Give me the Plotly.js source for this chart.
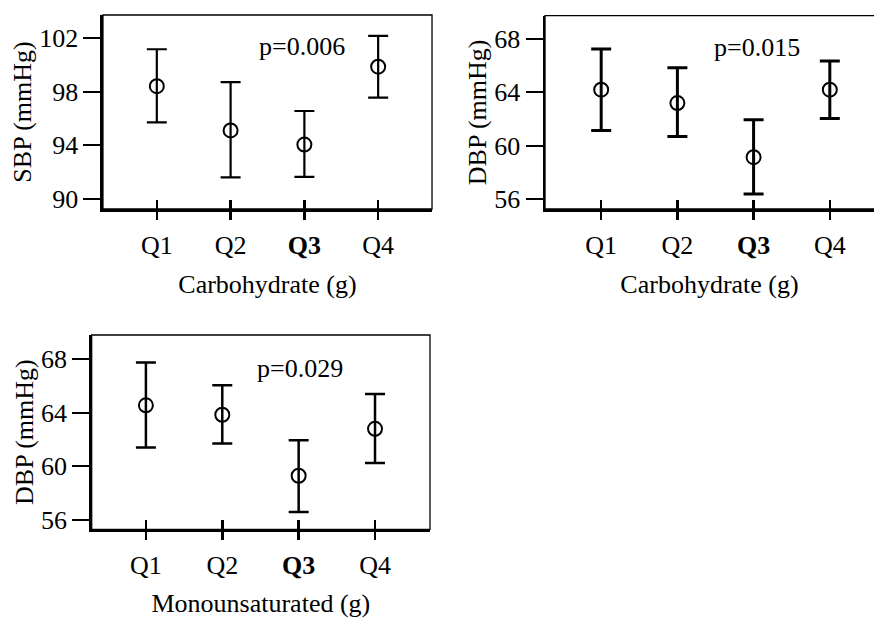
<!DOCTYPE html>
<html>
<head>
<meta charset="utf-8">
<script src="https://cdn.plot.ly/plotly-3.0.1.min.js"></script>
<style>html,body{margin:0;padding:0;background:#fff;}#chart{width:874px;height:618px;}</style>
</head>
<body>
<div id="chart"></div>
<script>
// Categories and tick labels
const quartiles = ['Q1', 'Q2', 'Q3', 'Q4'];
const quartileLabels = ['Q1', 'Q2', '<b>Q3</b>', 'Q4'];

// Panel 1: SBP by carbohydrate quartile
const sbpCarbMean  = [98.4, 95.1, 94.05, 99.85];
const sbpCarbUpper = [101.15, 98.7, 96.55, 102.15];
const sbpCarbLower = [95.7, 91.6, 91.65, 97.55];

// Panel 2: DBP by carbohydrate quartile
const dbpCarbMean  = [64.2, 63.2, 59.15, 64.2];
const dbpCarbUpper = [67.25, 65.85, 61.95, 66.35];
const dbpCarbLower = [61.15, 60.7, 56.4, 62.05];

// Panel 3: DBP by monounsaturated fat quartile
const dbpMufaMean  = [64.55, 63.85, 59.3, 62.8];
const dbpMufaUpper = [67.75, 66.05, 61.95, 65.4];
const dbpMufaLower = [61.4, 61.7, 56.6, 60.25];

const pValues = ['p=0.006', 'p=0.015', 'p=0.029'];
const yTitles = ['SBP (mmHg)', 'DBP (mmHg)', 'DBP (mmHg)'];
const xTitles = ['Carbohydrate (g)', 'Carbohydrate (g)', 'Monounsaturated (g)'];
const sbpTicks = [90, 94, 98, 102];
const dbpTicks = [56, 60, 64, 68];

const FONT = '"Liberation Serif", "Times New Roman", Times, serif';
const idx = quartiles.map((q, i) => i);

function trace(mean, upper, lower, xa, ya, lw) {
  return {
    type: 'scatter', mode: 'markers',
    x: idx, y: mean, xaxis: xa, yaxis: ya,
    text: quartiles, hoverinfo: 'text+y',
    marker: {symbol: 'circle-open', size: 14, color: '#000', line: {width: 2, color: '#000'}},
    error_y: {
      type: 'data', symmetric: false,
      array: upper.map((u, i) => u - mean[i]),
      arrayminus: lower.map((l, i) => mean[i] - l),
      color: '#000', thickness: lw, width: 10
    },
    showlegend: false
  };
}

const data = [
  trace(sbpCarbMean, sbpCarbUpper, sbpCarbLower, 'x', 'y', 2.2),
  trace(dbpCarbMean, dbpCarbUpper, dbpCarbLower, 'x2', 'y2', 3),
  trace(dbpMufaMean, dbpMufaUpper, dbpMufaLower, 'x3', 'y3', 2.5)
];

function xaxis(domain, range, anchor, title, standoff) {
  return {
    domain: domain, range: range, anchor: anchor,
    tickmode: 'array', tickvals: idx, ticktext: quartileLabels,
    ticks: 'outside', ticklen: 8, tickwidth: 2.5, tickcolor: '#000',
    showline: true, linewidth: 2.5, linecolor: '#000',
    showgrid: false, zeroline: false,
    tickfont: {family: FONT, size: 26, color: '#000'},
    ticklabelstandoff: 3,
    title: {text: title, font: {family: FONT, size: 26, color: '#000'}, standoff: standoff},
    fixedrange: true
  };
}
function innerTicks(over, range, anchor, domain) {
  return {
    overlaying: over, anchor: anchor, domain: domain, range: range,
    tickmode: 'array', tickvals: idx, showticklabels: false,
    ticks: 'inside', ticklen: 9, tickwidth: 2.5, tickcolor: '#000',
    showline: false, showgrid: false, zeroline: false, fixedrange: true
  };
}
function yaxis(domain, range, anchor, ticks, title) {
  return {
    domain: domain, range: range, anchor: anchor,
    tickmode: 'array', tickvals: ticks,
    ticks: 'outside', ticklen: 17, tickwidth: 2, tickcolor: '#000',
    showline: true, linewidth: 2.5, linecolor: '#000',
    showgrid: false, zeroline: false,
    tickfont: {family: FONT, size: 26, color: '#000'},
    ticklabelstandoff: 0,
    title: {text: title, font: {family: FONT, size: 26, color: '#000'}, standoff: 0},
    fixedrange: true
  };
}

const d1x = [0.1178, 0.4943], d1y = [0.6618, 0.9757];
const d2x = [0.6236, 1.0],    d2y = [0.6618, 0.9746];
const d3x = [0.1049, 0.4920], d3y = [0.1435, 0.4579];
const r1x = [-0.73, 3.73], r2x = [-0.737, 3.58], r3x = [-0.71, 3.72];

const layout = {
  width: 874, height: 618,
  margin: {l: 0, r: 0, t: 0, b: 0},
  paper_bgcolor: '#fff', plot_bgcolor: '#fff',
  font: {family: FONT, color: '#000'},
  showlegend: false,
  xaxis: xaxis(d1x, r1x, 'y', xTitles[0], 16),
  yaxis: yaxis(d1y, [89.25, 103.7], 'x', sbpTicks, yTitles[0]),
  xaxis2: xaxis(d2x, r2x, 'y2', xTitles[1], 16),
  yaxis2: yaxis(d2y, [55.27, 69.74], 'x2', dbpTicks, yTitles[1]),
  xaxis3: xaxis(d3x, r3x, 'y3', xTitles[2], 21),
  yaxis3: yaxis(d3y, [55.31, 69.79], 'x3', dbpTicks, yTitles[2]),
  xaxis4: innerTicks('x', r1x, 'y', d1x),
  xaxis5: innerTicks('x2', r2x, 'y2', d2x),
  xaxis6: innerTicks('x3', r3x, 'y3', d3x),
  shapes: [
    {type: 'rect', xref: 'x domain', yref: 'y domain', x0: 0, x1: 1, y0: 0, y1: 1, line: {color: '#000', width: 1.3}},
    {type: 'rect', xref: 'x2 domain', yref: 'y2 domain', x0: 0, x1: 1.05, y0: 0, y1: 1, line: {color: '#000', width: 1.3}},
    {type: 'rect', xref: 'x3 domain', yref: 'y3 domain', x0: 0, x1: 1, y0: 0, y1: 1, line: {color: '#000', width: 1.3}}
  ],
  annotations: [
    {xref: 'x domain', yref: 'y domain', x: 0.605, y: 0.84, xanchor: 'center', yanchor: 'middle', text: pValues[0], showarrow: false, font: {family: FONT, size: 26, color: '#000'}},
    {xref: 'x2 domain', yref: 'y2 domain', x: 0.644, y: 0.833, xanchor: 'center', yanchor: 'middle', text: pValues[1], showarrow: false, font: {family: FONT, size: 26, color: '#000'}},
    {xref: 'x3 domain', yref: 'y3 domain', x: 0.616, y: 0.83, xanchor: 'center', yanchor: 'middle', text: pValues[2], showarrow: false, font: {family: FONT, size: 26, color: '#000'}}
  ]
};

// give overlay axes a hidden trace so they are drawn
const ghost = ['x4', 'x5', 'x6'].map((xa, i) => ({
  type: 'scatter', mode: 'none', x: idx, y: [data[i].y[0], data[i].y[0], data[i].y[0], data[i].y[0]],
  xaxis: xa, yaxis: ['y', 'y2', 'y3'][i], hoverinfo: 'skip', showlegend: false
}));

Plotly.newPlot('chart', data.concat(ghost), layout, {displayModeBar: false, staticPlot: true});
</script>
</body>
</html>
